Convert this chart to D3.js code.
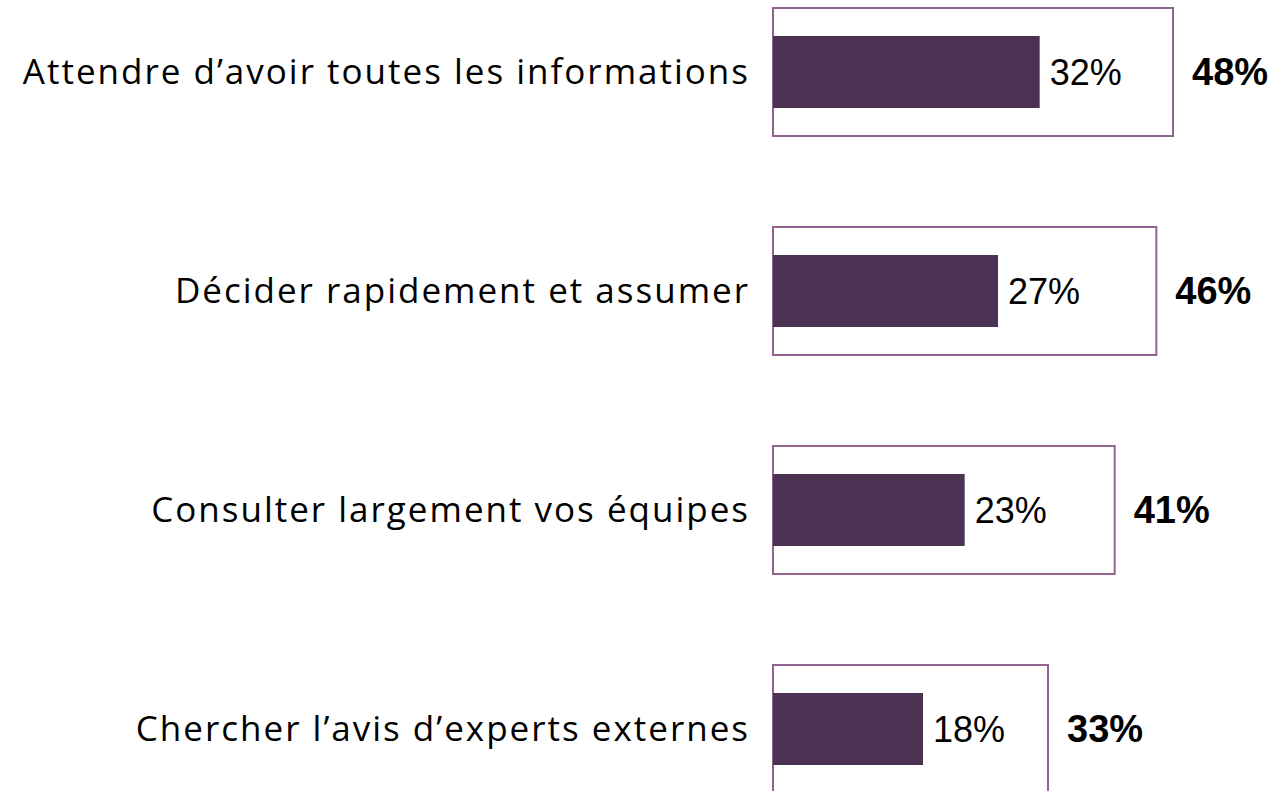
<!doctype html>
<html>
<head>
<script src="https://cdnjs.cloudflare.com/ajax/libs/d3/7.8.5/d3.min.js"></script>
<style>
body { margin: 0; background: #fff; }
.cat { font-family: "Open Sans", sans-serif; font-size: 35px; letter-spacing: 2px; fill: #000; }
.inner { font-family: "Liberation Sans", Arial, sans-serif; font-size: 36px; fill: #000; }
.outer { font-family: "Liberation Sans", Arial, sans-serif; font-size: 38px; font-weight: bold; fill: #000; }
</style>
</head>
<body>
<svg width="1276" height="791"></svg>
<script>
var categories = ["Attendre d\u2019avoir toutes les informations", "D\u00e9cider rapidement et assumer", "Consulter largement vos \u00e9quipes", "Chercher l\u2019avis d\u2019experts externes"];
var innerValues = [32, 27, 23, 18];
var outerValues = [48, 46, 41, 33];

var svg = d3.select("svg");
var x0 = 773;

var x = d3.scaleLinear().domain([0, 48]).range([x0, 1173]);
var y = d3.scaleBand().domain(categories).range([-37.5, 838.5]);

var data = categories.map(function(c, i) {
  return { cat: c, inner: innerValues[i], outer: outerValues[i] };
});

var rows = svg.selectAll(".row")
  .data(data)
  .enter().append("g")
  .attr("class", "row")
  .attr("transform", function(d) { return "translate(0," + (y(d.cat) + y.bandwidth() / 2) + ")"; });

// outer box (total)
rows.append("rect")
  .attr("x", x(0))
  .attr("y", -64)
  .attr("width", function(d) { return x(d.outer) - x(0); })
  .attr("height", 128)
  .attr("fill", "none")
  .attr("stroke", "#93638f")
  .attr("stroke-width", 2);

// inner bar
rows.append("rect")
  .attr("x", x(0))
  .attr("y", -36)
  .attr("width", function(d) { return x(d.inner) - x(0); })
  .attr("height", 72)
  .attr("fill", "#4b3152");

rows.append("text")
  .attr("class", "inner")
  .attr("x", function(d) { return x(d.inner) + 10; })
  .attr("dy", "0.35em")
  .text(function(d) { return d.inner + "%"; });

rows.append("text")
  .attr("class", "outer")
  .attr("x", function(d) { return x(d.outer) + 19; })
  .attr("dy", "0.35em")
  .text(function(d) { return d.outer + "%"; });

rows.append("text")
  .attr("class", "cat")
  .attr("x", x0 - 23)
  .attr("dy", "0.35em")
  .attr("text-anchor", "end")
  .text(function(d) { return d.cat; });
</script>
</body>
</html>
